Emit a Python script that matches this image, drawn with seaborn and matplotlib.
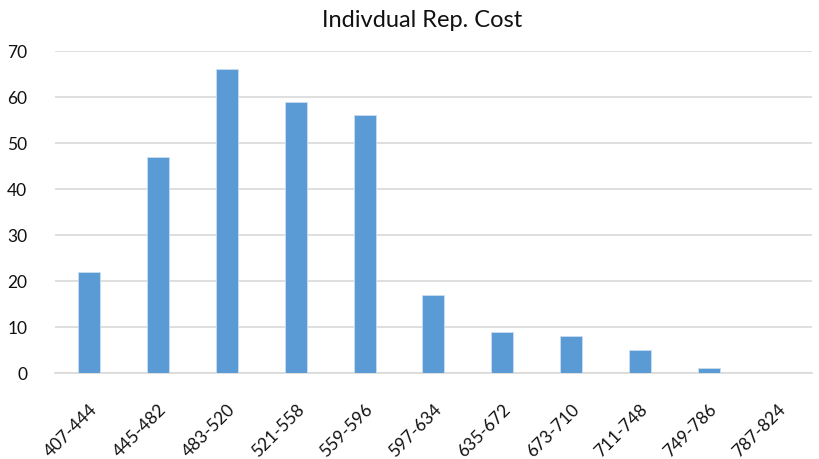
import matplotlib
matplotlib.use("Agg")
import matplotlib.pyplot as plt
import seaborn as sns
import pandas as pd

# Data
bins = ["407-444", "445-482", "483-520", "521-558", "559-596", "597-634",
        "635-672", "673-710", "711-748", "749-786", "787-824"]
counts = [22, 47, 66, 59, 56, 17, 9, 8, 5, 1, 0]

BAR_COLOR = "#5B9BD5"
GRID_COLOR = "#D9D9D9"
TEXT_COLOR = "#111111"

sns.set_theme(style="white")
plt.rcParams["font.family"] = ["Lato", "DejaVu Sans"]

df = pd.DataFrame({"bin": bins, "count": counts})

fig = plt.figure(figsize=(8.2, 4.6), dpi=100)
ax = fig.add_axes([0.067, 0.187, 0.923, 0.700])

sns.barplot(data=df, x="bin", y="count", color=BAR_COLOR, saturation=1,
            width=0.32, edgecolor="#C9DDF0", linewidth=0.6, ax=ax, zorder=3)

ax.set_ylim(0, 70)
ax.set_yticks(range(0, 71, 10))
ax.set_xlim(-0.5, len(bins) - 0.5)
ax.yaxis.grid(True, color=GRID_COLOR, linewidth=1.2, zorder=0)
ax.set_axisbelow(True)
for side in ["top", "right", "left"]:
    ax.spines[side].set_visible(False)
ax.spines["bottom"].set_color(GRID_COLOR)
ax.spines["bottom"].set_linewidth(1.2)
ax.tick_params(axis="both", length=0, colors=TEXT_COLOR, labelsize=12.5)
ax.tick_params(axis="y", pad=20)
ax.tick_params(axis="x", pad=20)
plt.setp(ax.get_xticklabels(), rotation=45, ha="right", rotation_mode="anchor")
ax.set_xlabel("")
ax.set_ylabel("")

fig.suptitle("Indivdual Rep. Cost", x=0.515, y=0.978, fontsize=17, color=TEXT_COLOR)

fig.savefig("out.png", dpi=100, facecolor="white")
